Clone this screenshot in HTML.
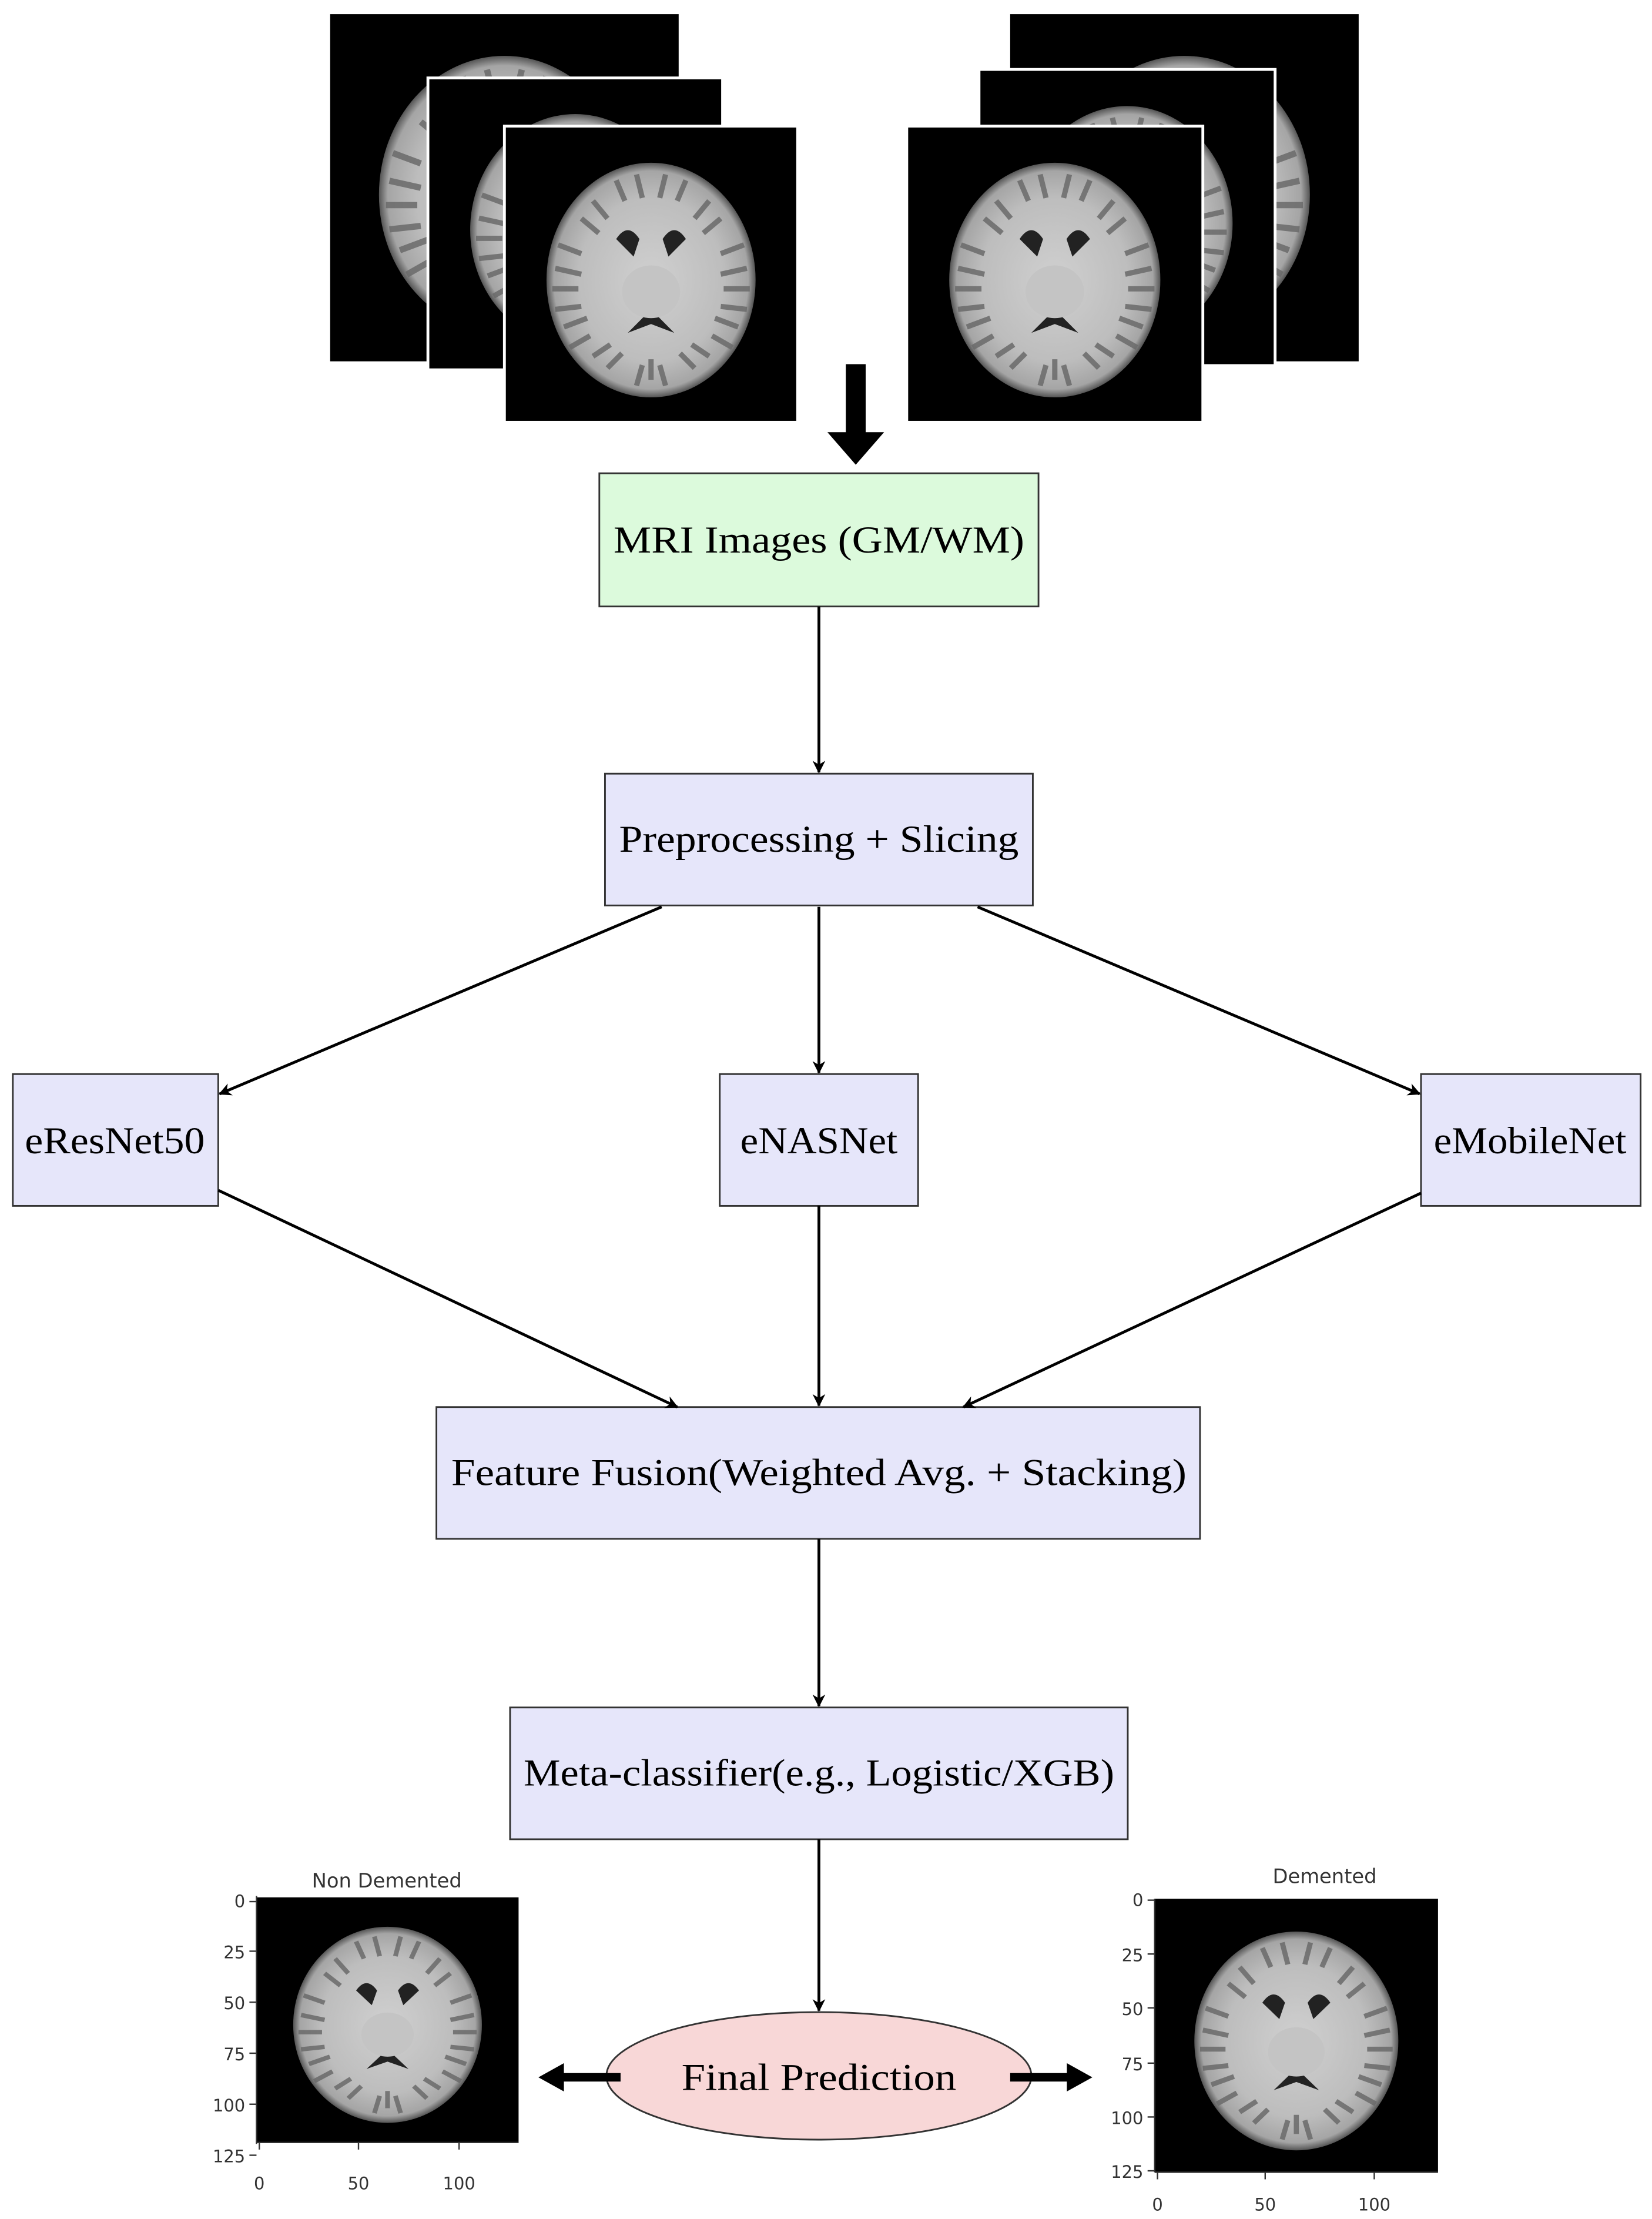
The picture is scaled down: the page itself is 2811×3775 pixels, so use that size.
<!DOCTYPE html>
<html><head><meta charset="utf-8"><style>html,body{margin:0;padding:0;background:#fff}svg{display:block}</style></head>
<body>
<svg width="2811" height="3775" viewBox="0 0 1166 1566" xmlns="http://www.w3.org/2000/svg">
<defs>
<radialGradient id="bg" cx="50%" cy="50%" r="50%">
<stop offset="0" stop-color="#d0d0d0"/><stop offset="0.7" stop-color="#bdbdbd"/><stop offset="0.93" stop-color="#a5a5a5"/><stop offset="1" stop-color="#555"/>
</radialGradient>
<marker id="ah" viewBox="0 0 10 10" refX="9" refY="5" markerWidth="9" markerHeight="9" markerUnits="userSpaceOnUse" orient="auto">
<path d="M0,0 L10,5 L0,10 L3,5 z" fill="#000"/></marker>
<g id="brain">
<rect x="0" y="0" width="100" height="100" fill="#000"/>
<ellipse cx="50" cy="52" rx="36" ry="40" fill="url(#bg)"/>
<g stroke="#6a6a6a" stroke-width="1.8" fill="none" opacity="0.85">
<path d="M18,40 l8,3 M17,48 l9,2 M16,55 l9,0 M17,62 l9,-1 M20,68 l8,-3 M22,75 l7,-4 M82,40 l-8,3 M83,48 l-9,2 M84,55 l-9,0 M83,62 l-9,-1 M80,68 l-8,-3 M78,75 l-7,-4 M30,25 l5,6 M26,31 l6,5 M70,25 l-5,6 M74,31 l-6,5 M38,18 l3,7 M45,16 l2,8 M55,16 l-2,8 M62,18 l-3,7 M35,82 l5,-5 M30,78 l6,-4 M65,82 l-5,-5 M70,78 l-6,-4 M45,88 l2,-7 M55,88 l-2,-7 M50,86 l0,-7"/>
</g>
<path d="M38,38 q4,-6 8,0 l-2,6 z M62,38 q-4,-6 -8,0 l2,6 z" fill="#222"/>
<path d="M42,70 l8,-8 l8,8 l-8,-3 z" fill="#222"/>
<ellipse cx="50" cy="56" rx="10" ry="9" fill="#c4c4c4"/>
</g>
</defs>

<use href="#brain" transform="translate(233,10) scale(2.46,2.45)"/>
<rect x="301" y="54" width="209" height="208" fill="#fff"/>
<use href="#brain" transform="translate(303,56) scale(2.06,2.04)"/>
<rect x="355" y="88" width="209" height="211" fill="#fff"/>
<use href="#brain" transform="translate(357,90) scale(2.05,2.07)"/>

<use href="#brain" transform="translate(713,10) scale(2.46,2.45)"/>
<rect x="690" y="48" width="211" height="211" fill="#fff"/>
<use href="#brain" transform="translate(692,50) scale(2.07,2.07)"/>
<rect x="639" y="88" width="211" height="211" fill="#fff"/>
<use href="#brain" transform="translate(641,90) scale(2.07,2.07)"/>

<rect x="597" y="257" width="14" height="50" fill="#000"/>
<polygon points="584,305 624,305 604,328" fill="#000"/>

<g font-family="Liberation Serif, serif" font-size="27" text-anchor="middle" fill="#000" lengthAdjust="spacingAndGlyphs">
<rect x="423" y="334" width="310" height="94" fill="#dcfadc" stroke="#333" stroke-width="1.2"/>
<text x="578" y="390" textLength="290" lengthAdjust="spacingAndGlyphs">MRI Images (GM/WM)</text>

<rect x="427" y="546" width="302" height="93" fill="#e6e6fa" stroke="#333" stroke-width="1.2"/>
<text x="578" y="601" textLength="282" lengthAdjust="spacingAndGlyphs">Preprocessing + Slicing</text>

<rect x="9" y="758" width="145" height="93" fill="#e6e6fa" stroke="#333" stroke-width="1.2"/>
<text x="81" y="814" textLength="127" lengthAdjust="spacingAndGlyphs">eResNet50</text>
<rect x="508" y="758" width="140" height="93" fill="#e6e6fa" stroke="#333" stroke-width="1.2"/>
<text x="578" y="814" textLength="111" lengthAdjust="spacingAndGlyphs">eNASNet</text>
<rect x="1003" y="758" width="155" height="93" fill="#e6e6fa" stroke="#333" stroke-width="1.2"/>
<text x="1080" y="814" textLength="136" lengthAdjust="spacingAndGlyphs">eMobileNet</text>

<rect x="308" y="993" width="539" height="93" fill="#e6e6fa" stroke="#333" stroke-width="1.2"/>
<text x="578" y="1048" textLength="519" lengthAdjust="spacingAndGlyphs">Feature Fusion(Weighted Avg. + Stacking)</text>

<rect x="360" y="1205" width="436" height="93" fill="#e6e6fa" stroke="#333" stroke-width="1.2"/>
<text x="578" y="1260" textLength="417" lengthAdjust="spacingAndGlyphs">Meta-classifier(e.g., Logistic/XGB)</text>

<ellipse cx="578" cy="1465" rx="150" ry="45" fill="#f8d7d7" stroke="#333" stroke-width="1.2"/>
<text x="578" y="1475" textLength="194" lengthAdjust="spacingAndGlyphs">Final Prediction</text>
</g>

<g stroke="#000" stroke-width="2" fill="none" marker-end="url(#ah)">
<line x1="578" y1="428" x2="578" y2="545"/>
<line x1="467" y1="640" x2="155" y2="772"/>
<line x1="578" y1="640" x2="578" y2="757"/>
<line x1="690" y1="640" x2="1002" y2="772"/>
<line x1="154" y1="840" x2="478" y2="993"/>
<line x1="578" y1="851" x2="578" y2="992"/>
<line x1="1003" y1="842" x2="680" y2="993"/>
<line x1="578" y1="1086" x2="578" y2="1204"/>
<line x1="578" y1="1298" x2="578" y2="1419"/>
</g>

<rect x="396" y="1463" width="42" height="6" fill="#000"/>
<polygon points="380,1466 398,1456 398,1476" fill="#000"/>
<rect x="713" y="1463" width="42" height="6" fill="#000"/>
<polygon points="771,1466 753,1456 753,1476" fill="#000"/>

<use href="#brain" transform="translate(181,1339) scale(1.85,1.73)"/>
<use href="#brain" transform="translate(815,1340) scale(2.0,1.93)"/>
<g font-family="DejaVu Sans, sans-serif" font-size="14" fill="#333" text-anchor="middle">
<text x="273" y="1332">Non Demented</text>
<text x="935" y="1329">Demented</text>
</g>
<g stroke="#333" stroke-width="1">
<line x1="181" y1="1338" x2="181" y2="1513"/><line x1="181" y1="1512" x2="366" y2="1512"/>
<line x1="176" y1="1342" x2="181" y2="1342"/><line x1="176" y1="1377" x2="181" y2="1377"/><line x1="176" y1="1413" x2="181" y2="1413"/><line x1="176" y1="1449" x2="181" y2="1449"/><line x1="176" y1="1485" x2="181" y2="1485"/><line x1="176" y1="1521" x2="181" y2="1521"/>
<line x1="183" y1="1512" x2="183" y2="1517"/><line x1="253" y1="1512" x2="253" y2="1517"/><line x1="324" y1="1512" x2="324" y2="1517"/>
<line x1="815" y1="1340" x2="815" y2="1533"/><line x1="815" y1="1533" x2="1015" y2="1533"/>
<line x1="810" y1="1341" x2="815" y2="1341"/><line x1="810" y1="1379" x2="815" y2="1379"/><line x1="810" y1="1417" x2="815" y2="1417"/><line x1="810" y1="1456" x2="815" y2="1456"/><line x1="810" y1="1494" x2="815" y2="1494"/><line x1="810" y1="1532" x2="815" y2="1532"/>
<line x1="817" y1="1533" x2="817" y2="1538"/><line x1="893" y1="1533" x2="893" y2="1538"/><line x1="970" y1="1533" x2="970" y2="1538"/>
</g>
<g font-family="DejaVu Sans, sans-serif" font-size="12" fill="#333">
<g text-anchor="end">
<text x="173" y="1346">0</text><text x="173" y="1382">25</text><text x="173" y="1418">50</text><text x="173" y="1454">75</text><text x="173" y="1490">100</text><text x="173" y="1526">125</text>
<text x="807" y="1345">0</text><text x="807" y="1384">25</text><text x="807" y="1422">50</text><text x="807" y="1461">75</text><text x="807" y="1499">100</text><text x="807" y="1537">125</text>
</g>
<g text-anchor="middle">
<text x="183" y="1545">0</text><text x="253" y="1545">50</text><text x="324" y="1545">100</text>
<text x="817" y="1560">0</text><text x="893" y="1560">50</text><text x="970" y="1560">100</text>
</g>
</g>
</svg>
</body></html>
